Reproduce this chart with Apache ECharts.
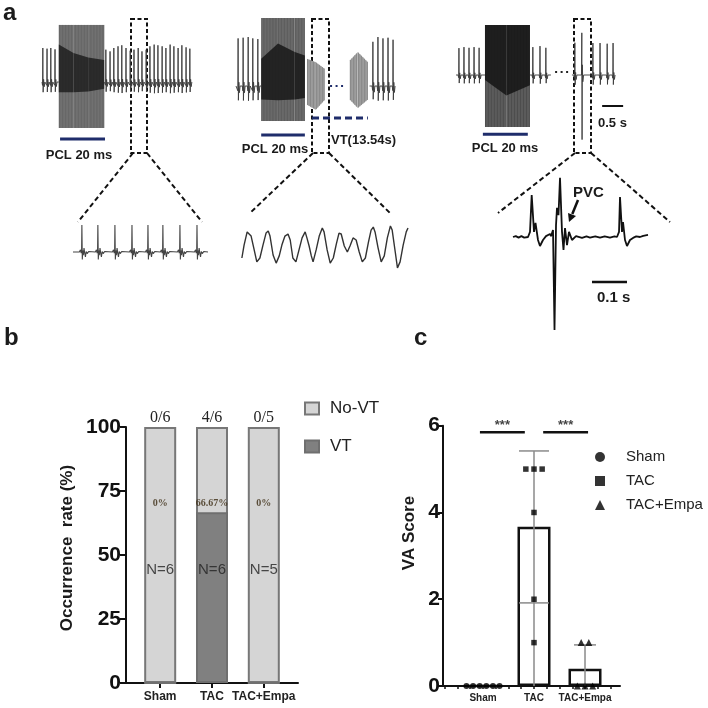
<!DOCTYPE html>
<html><head><meta charset="utf-8">
<script src="https://cdn.jsdelivr.net/npm/echarts@6/dist/echarts.min.js"></script>
<style>html,body{margin:0;padding:0;background:#fff}#c{width:708px;height:708px}</style>
</head><body><div id="c"></div>
<script>
// ================= DATA =================
// ---- Panel a : ECG traces (time in s for overview traces, ms for zooms; amplitude in relative mV)
const sinusBeatShape = [[-0.02,0],[-0.007,-0.1],[0,1],[0.007,-0.3],[0.018,0.08],[0.032,-0.14],[0.048,0]];
const pvcBeatShape   = [[-0.012,0],[-0.004,1.24],[0.002,-1.9],[0.008,0.3],[0.02,-0.2],[0.04,0]];

const trace1PreBeats  = [0.02,0.12,0.21,0.31];
const trace1PreAmp    = [1.0,0.98,1.0,0.96];
const trace1PostBeats = [1.52,1.62,1.71,1.81,1.90,2.00,2.10,2.19,2.29,2.38,2.48,2.57,2.67,2.76,2.86,2.95,3.05,3.14,3.24,3.33,3.43,3.52];
const trace1PostAmp   = [0.95,0.9,1.0,1.05,1.08,1.0,0.92,0.95,1.0,0.9,0.95,1.05,1.1,1.08,1.05,1.0,1.1,1.05,1.0,1.08,1.02,0.98];
// pacing envelope: [t, outerTop, innerTop, innerBottom, outerBottom]
const trace1Pacing = [[0.40,1.68,1.1,-0.3,-1.35],[0.75,1.68,0.85,-0.3,-1.35],[1.10,1.68,0.72,-0.28,-1.35],[1.48,1.68,0.65,-0.2,-1.35]];

const trace2PreBeats  = [0.05,0.17,0.29,0.40,0.52];
const trace2PreAmp    = [1.4,1.42,1.44,1.4,1.38];
const trace2PostBeats = [3.26,3.38,3.50,3.62,3.74];
const trace2PostAmp   = [1.3,1.44,1.4,1.42,1.36];
const trace2Pacing = [[0.60,2.0,0.8,-0.4,-1.03],[1.0,2.0,1.25,-0.42,-1.03],[1.4,2.0,1.0,-0.4,-1.03],[1.64,2.0,0.9,-0.35,-1.03]];
const trace2VT1 = [[1.69,0.8,null,null,-0.55],[1.9,0.7,null,null,-0.7],[2.12,0.5,null,null,-0.4]];
const trace2VT2 = [[2.71,0.75,null,null,-0.4],[2.9,1.0,null,null,-0.65],[3.14,0.7,null,null,-0.4]];
const trace2Gap = [[2.24,0],[2.60,0]];
const trace2VTEpisode = [1.81,3.14];

const trace3PreBeats = [0.07,0.19,0.31,0.43,0.55];
const trace3PreAmp   = [0.79,0.82,0.8,0.82,0.8];
const trace3MidBeats = [1.83,2.0,2.14];
const trace3MidAmp   = [0.82,0.85,0.8];
const trace3PostBeats = [2.83,3.0,3.26,3.43,3.60,3.74];
const trace3PostAmp   = [0.95,1.0,0.94,0.94,0.92,0.94];
const trace3PostKind  = ['N','PVC','N','N','N','N'];
const trace3Pacing = [[0.69,1.47,1.47,-0.15,-1.53],[1.2,1.47,1.47,-0.6,-1.53],[1.76,1.47,1.47,-0.3,-1.53]];
const trace3Gap = [[2.36,0.09],[2.67,0.09]];
const scaleBarTop = [3.48, 0.5];     // start (s), length (s)

// zoomed traces
const sinusZoomBeats = [25,70,118,166,211,253,301,349];
const sinusZoomShape = [[-7,0],[-4,0.08],[-2,-0.04],[-0.8,0.05],[0,1],[1.2,-0.28],[2.5,0.05],[4,-0.12],[6,0.15],[8,-0.05],[10,-0.18],[12,0.02],[15,-0.06],[19,0.02],[23,0]];
const vtZoom = [[2,-0.1],[7,0.33],[14,0.77],[18,0.83],[23,0.63],[30,0.17],[36,-0.23],[43,-0.1],[50,0.33],[57,0.73],[62,0.8],[66,0.63],[73,0],[80,-0.27],[87,-0.03],[93,0.33],[100,0.63],[107,0.7],[112,0.5],[118,-0.1],[125,-0.23],[132,0.17],[139,0.57],[146,0.77],[150,0.57],[155,0.3],[160,-0.03],[164,-0.23],[171,0.17],[178,0.63],[185,0.9],[189,0.77],[196,0.17],[203,-0.27],[210,-0.1],[217,0.37],[223,0.73],[228,0.7],[235,0.3],[242,0.1],[248,0.3],[255,0.57],[262,0.5],[269,0.1],[276,-0.23],[283,-0.1],[290,0.43],[296,0.83],[301,0.93],[305,0.77],[312,0.23],[319,-0.23],[326,-0.03],[333,0.57],[340,0.97],[344,0.83],[351,0.1],[356,-0.43],[362,-0.23],[369,0.33],[376,0.77],[380,0.9]];
const pvcZoom = [[0,0],[8,0.03],[16,-0.02],[24,0.03],[32,-0.02],[42.9,0],[48.6,0.17],[53.4,1.4],[60,0.17],[64.3,0.47],[71.4,-0.1],[77.1,-0.3],[85.7,-0.1],[94.3,0.03],[105.7,0.1],[108.6,0.03],[114.3,0.23],[118.6,-3.1],[122.9,0.4],[125.7,0.97],[130,0.73],[134.3,1.97],[140,0.17],[144.3,-0.43],[148.6,0.3],[154.3,-0.27],[160,0.17],[168.6,-0.1],[180,0.03],[197.1,-0.03],[210,0.02],[220,-0.02],[235,0.02],[248.6,-0.02],[262,0.02],[277,-0.02],[290,0.02],[297.1,0],[302.9,0.17],[305.7,1.33],[311.4,0.17],[314.3,0.5],[320,-0.1],[325.7,-0.3],[334.3,-0.1],[342.9,-0.03],[352,0.02],[362.9,0],[372,0.04],[385.7,0.07]];
const scaleBarPvc = [225.7, 100];    // start (ms), length (ms)

// ---- Panel b
const bCategories = ['Sham','TAC','TAC+Empa'];
const vtRate   = [0, 66.67, 0];
const noVtRate = [100, 100, 100];
const vtFractions = ['0/6','4/6','0/5'];
const vtPctLabels = ['0%','66.67%','0%'];
const groupN = ['N=6','N=6','N=5'];

// ---- Panel c
const cCategories = ['Sham','TAC','TAC+Empa'];
const vaSham = [0,0,0,0,0,0];
const vaTAC  = [5,5,5,4,2,1];
const vaEmpa = [1,1,0,0,0];
const sigLines = [[-0.06,0.82,5.85,'***'],[1.18,2.06,5.85,'***']];

// ================= HELPERS =================
function beatsLine(beats, amps, shapes, start, end) {
  const pts = [];
  if (start !== undefined) pts.push([start, 0]);
  beats.forEach((t, i) => {
    const shape = Array.isArray(shapes[0][0]) ? shapes[i] : shapes;
    shape.forEach(([dt, v]) => pts.push([+(t + dt).toFixed(4), v * amps[i]]));
  });
  if (end !== undefined) pts.push([end, 0]);
  return pts;
}
function ecgLine(idx, data, color, width, z) {
  return {type:'line', xAxisIndex:idx, yAxisIndex:idx, data, symbol:'none', silent:true,
    lineStyle:{color, width}, z: z || 2, animation:false, clip:false};
}
function envSeries(idx, env, colors, z) {
  return {
    type:'custom', xAxisIndex:idx, yAxisIndex:idx, z: z || 3, silent:true,
    data: env.slice(0, -1).map((d, i) => [d[0], i]),
    renderItem: (params, api) => {
      const i = params.dataIndex, a = env[i], b = env[i + 1];
      const p = (t, v) => api.coord([t, v]);
      const ch = [];
      ch.push({type:'polygon', shape:{points:[p(a[0],a[1]),p(b[0],b[1]),p(b[0],b[4]),p(a[0],a[4])]}, style:{fill:colors[0]}});
      const x0 = p(a[0],0)[0], x1 = p(b[0],0)[0];
      for (let x = x0 + 0.6; x < x1; x += 1.5) {
        const f = (x - x0) / (x1 - x0);
        const yt = p(a[0], a[1] + (b[1]-a[1])*f)[1], yb = p(a[0], a[4] + (b[4]-a[4])*f)[1];
        ch.push({type:'line', shape:{x1:x,y1:yt,x2:x,y2:yb}, style:{stroke:colors[2], lineWidth:0.6}});
      }
      if (a[2] !== null) {
        ch.push({type:'polygon', shape:{points:[p(a[0],a[2]),p(b[0],b[2]),p(b[0],b[3]),p(a[0],a[3])]}, style:{fill:colors[1], opacity:0.85}});
      }
      return {type:'group', children:ch};
    }
  };
}
function spread(values, center, step) {
  const counts = {}, seen = {};
  values.forEach(v => counts[v] = (counts[v] || 0) + 1);
  return values.map(v => {
    const k = seen[v] = (seen[v] || 0) + 1;
    return [center + (k - 1 - (counts[v] - 1) / 2) * step, v];
  });
}
const mean = a => a.reduce((s, v) => s + v, 0) / a.length;
const sd = a => { const m = mean(a); return Math.sqrt(a.reduce((s, v) => s + (v - m) ** 2, 0) / (a.length - 1)); };

// ================= LAYOUT =================
const SANS = '"Liberation Sans", Arial, sans-serif';
const SERIF = '"Liberation Serif", "Times New Roman", serif';
const grids = [
  {left:42,  top:14,    width:150, height:129.2},
  {left:236, top:14.6,  width:160, height:125.8},
  {left:456, top:13.8,  width:170, height:136},
  {left:73,  top:219.6, width:135, height:48.6},
  {left:241, top:225,   width:167, height:45},
  {left:513, top:174,   width:135, height:159},
  {left:126, top:427,   width:172, height:256},
  {left:443, top:425.7, width:177, height:260.3}
].map(g => Object.assign({outerBoundsMode:'none', containLabel:false}, g));
const hiddenX = [[0,3.571],[0,3.81],[0,4.048],[0,380],[0,380],[0,385.7]];
const hiddenY = [[-1.8,2.0],[-1.6,2.1],[-2.2,1.8],[-0.6,1.2],[-0.5,1.0],[-3.2,2.1]];

const xAxes = hiddenX.map((r, i) => ({type:'value', gridIndex:i, min:r[0], max:r[1], show:false}));
const yAxes = hiddenY.map((r, i) => ({type:'value', gridIndex:i, min:r[0], max:r[1], show:false}));

xAxes.push({type:'value', gridIndex:6, min:-0.66, max:2.66,
  axisLine:{show:true, onZero:false, lineStyle:{color:'#111', width:2}},
  axisTick:{show:true, customValues:[0,1,2], length:5, lineStyle:{color:'#111', width:2}},
  axisLabel:{customValues:[0,1,2], formatter:v => bCategories[Math.round(v)], fontFamily:SANS, fontWeight:'bold', fontSize:12, color:'#222', margin:8},
  splitLine:{show:false}});
yAxes.push({type:'value', gridIndex:6, min:0, max:100, interval:25,
  axisLine:{show:true, onZero:false, lineStyle:{color:'#111', width:2}},
  axisTick:{show:true, length:6, lineStyle:{color:'#111', width:2}},
  axisLabel:{fontFamily:SANS, fontWeight:'bold', fontSize:21, color:'#111', margin:5},
  splitLine:{show:false}});
const cTicks = [];
for (let v = -0.75; v <= 2.6; v += 0.25) cTicks.push(+v.toFixed(2));
xAxes.push({type:'value', gridIndex:7, min:-0.784, max:2.686,
  axisLine:{show:true, onZero:false, lineStyle:{color:'#111', width:2}},
  axisTick:{show:true, customValues:cTicks, length:3, lineStyle:{color:'#111', width:1.5}},
  axisLabel:{customValues:[0,1,2], formatter:v => cCategories[Math.round(v)], fontFamily:SANS, fontWeight:'bold', fontSize:10, color:'#222', margin:7},
  splitLine:{show:false}});
yAxes.push({type:'value', gridIndex:7, min:0, max:6, interval:2,
  axisLine:{show:true, onZero:false, lineStyle:{color:'#111', width:2}},
  axisTick:{show:true, length:5, lineStyle:{color:'#111', width:2}},
  axisLabel:{fontFamily:SANS, fontWeight:'bold', fontSize:21, color:'#111', margin:3},
  splitLine:{show:false}});

// ================= SERIES =================
const series = [];
const TR = '#3a3a3a';
// trace 1
series.push(ecgLine(0, beatsLine(trace1PreBeats, trace1PreAmp, sinusBeatShape, 0, trace1Pacing[0][0]), TR, 0.9));
series.push(ecgLine(0, beatsLine(trace1PostBeats, trace1PostAmp, sinusBeatShape, trace1Pacing[3][0]), TR, 0.9));
series.push(envSeries(0, trace1Pacing, ['#7c7c7c','#1e1e1e','#555']));
series.push(ecgLine(0, [[trace1Pacing[0][0]+0.03,-1.68],[trace1Pacing[3][0]+0.02,-1.68]], '#1f2d6b', 3));
// trace 2
series.push(ecgLine(1, beatsLine(trace2PreBeats, trace2PreAmp, sinusBeatShape, 0, trace2Pacing[0][0]), TR, 0.9));
series.push(ecgLine(1, beatsLine(trace2PostBeats, trace2PostAmp, sinusBeatShape, 3.18), TR, 0.9));
series.push(envSeries(1, trace2Pacing, ['#777','#181818','#4a4a4a']));
series.push(envSeries(1, trace2VT1, ['#b4b4b4',null,'#666']));
series.push(envSeries(1, trace2VT2, ['#b4b4b4',null,'#666']));
series.push(Object.assign(ecgLine(1, trace2Gap, '#1f2d6b', 2), {lineStyle:{color:'#1f2d6b', width:2, type:[2,3.5]}}));
series.push(ecgLine(1, [[trace2Pacing[0][0],-1.44],[trace2Pacing[3][0],-1.44]], '#1f2d6b', 3));
series.push(Object.assign(ecgLine(1, [[trace2VTEpisode[0],-0.94],[trace2VTEpisode[1],-0.94]], '#1f2d6b', 3), {lineStyle:{color:'#1f2d6b', width:3, type:[7,4]}}));
// trace 3
series.push(ecgLine(2, beatsLine(trace3PreBeats, trace3PreAmp, sinusBeatShape, 0, trace3Pacing[0][0]), TR, 0.9));
series.push(ecgLine(2, beatsLine(trace3MidBeats, trace3MidAmp, sinusBeatShape, trace3Pacing[2][0], 2.26), TR, 0.9));
series.push(ecgLine(2, beatsLine(trace3PostBeats, trace3PostAmp, trace3PostKind.map(k => k === 'PVC' ? pvcBeatShape : sinusBeatShape), 2.76, 3.8), TR, 0.9));
series.push(envSeries(2, trace3Pacing, ['#6a6a6a','#141414','#3a3a3a']));
series.push(Object.assign(ecgLine(2, trace3Gap, '#222', 2), {lineStyle:{color:'#222', width:2, type:[2,3.5]}}));
series.push(ecgLine(2, [[trace3Pacing[0][0]-0.05,-1.74],[trace3Pacing[2][0]-0.05,-1.74]], '#1f2d6b', 3));
series.push(ecgLine(2, [[scaleBarTop[0],-0.91],[scaleBarTop[0]+scaleBarTop[1],-0.91]], '#111', 2));
// zooms
series.push(ecgLine(3, beatsLine(sinusZoomBeats, sinusZoomBeats.map(() => 1), sinusZoomShape, 0, 380), '#444', 1.1));
series.push(ecgLine(4, vtZoom, '#333', 1.4));
series.push(ecgLine(5, pvcZoom, '#111', 1.8));
series.push(ecgLine(5, [[scaleBarPvc[0],-1.5],[scaleBarPvc[0]+scaleBarPvc[1],-1.5]], '#111', 2.5));

// ---- Panel b bars
series.push({name:'No-VT', type:'bar', xAxisIndex:6, yAxisIndex:6, barWidth:32, z:2,
  data: noVtRate.map((v, i) => [i, v]),
  itemStyle:{color:'#d5d5d5', borderColor:'#777', borderWidth:2},
  label:{show:true, position:'top', distance:1, formatter:p => vtFractions[p.dataIndex], fontFamily:SERIF, fontSize:16, color:'#222'}});
series.push({name:'VT', type:'bar', xAxisIndex:6, yAxisIndex:6, barWidth:32, barGap:'-100%', z:3,
  data: vtRate.map((v, i) => [i, v]),
  itemStyle:{color:'#808080', borderColor:'#6f6f6f', borderWidth:2}});
series.push({type:'scatter', xAxisIndex:6, yAxisIndex:6, symbolSize:1, z:5, silent:true,
  itemStyle:{color:'rgba(0,0,0,0)'},
  data: vtPctLabels.map((t, i) => [i, 70.3]),
  label:{show:true, position:'inside', formatter:p => vtPctLabels[p.dataIndex], fontFamily:SERIF, fontWeight:'bold', fontSize:10, color:'#3b2a12'}});
series.push({type:'scatter', xAxisIndex:6, yAxisIndex:6, symbolSize:1, z:5, silent:true,
  itemStyle:{color:'rgba(0,0,0,0)'},
  data: groupN.map((t, i) => [i, 44.1]),
  label:{show:true, position:'inside', formatter:p => groupN[p.dataIndex], fontFamily:SANS, fontSize:15, color:'#222'}});

// ---- Panel c
const groups = [vaSham, vaTAC, vaEmpa];
const means = groups.map(mean);
const sds = groups.map(sd);
series.push({type:'bar', xAxisIndex:7, yAxisIndex:7, barWidth:33, z:2, silent:true,
  data: means.map((m, i) => [i, +m.toFixed(2)]),
  itemStyle:{color:'#fff', borderColor:'#111', borderWidth:2.5}});
const capHalf = [0, 15, 11];
series.push({type:'custom', xAxisIndex:7, yAxisIndex:7, z:4, silent:true,
  data: means.map((m, i) => [i, m - sds[i], m + sds[i]]).filter((d, i) => sds[i] > 0),
  renderItem: (params, api) => {
    const x = api.value(0), lo = api.value(1), hi = api.value(2);
    const idx = Math.round(x);
    const top = api.coord([x, hi]), base = api.coord([x, 0]);
    const ch = [{type:'line', shape:{x1:top[0], y1:top[1], x2:base[0], y2:base[1]}, style:{stroke:'#8a8a8a', lineWidth:1.5}},
      {type:'line', shape:{x1:top[0]-capHalf[idx], y1:top[1], x2:top[0]+capHalf[idx], y2:top[1]}, style:{stroke:'#8a8a8a', lineWidth:1.5}}];
    if (lo > 0) {
      const l = api.coord([x, lo]);
      ch.push({type:'line', shape:{x1:l[0]-capHalf[idx], y1:l[1], x2:l[0]+capHalf[idx], y2:l[1]}, style:{stroke:'#8a8a8a', lineWidth:1.5}});
    }
    return {type:'group', children:ch};
  }});
series.push({name:'Sham', type:'scatter', xAxisIndex:7, yAxisIndex:7, symbol:'circle', symbolSize:6, z:6, itemStyle:{color:'#000'}, data: spread(vaSham, 0, 0.13)});
series.push({name:'TAC', type:'scatter', xAxisIndex:7, yAxisIndex:7, symbol:'rect', symbolSize:5.5, z:6, itemStyle:{color:'#000'}, data: spread(vaTAC, 1, 0.16)});
series.push({name:'TAC+Empa', type:'scatter', xAxisIndex:7, yAxisIndex:7, symbol:'triangle', symbolSize:7, z:6, itemStyle:{color:'#000'}, data: spread(vaEmpa, 2, 0.15)});
sigLines.forEach(s => {
  series.push({type:'line', xAxisIndex:7, yAxisIndex:7, symbol:'none', silent:true, z:5,
    data:[[s[0], s[2]], [s[1], s[2]]], lineStyle:{color:'#111', width:2.5}});
  series.push({type:'scatter', xAxisIndex:7, yAxisIndex:7, symbolSize:1, silent:true, z:5,
    itemStyle:{color:'rgba(0,0,0,0)'}, data:[[(s[0]+s[1])/2, s[2]]],
    label:{show:true, position:'top', distance:0, formatter:s[3], fontFamily:SANS, fontWeight:'bold', fontSize:13, color:'#111'}});
});

// ================= GRAPHICS (annotations) =================
const dash = {stroke:'#111', lineWidth:2, lineDash:[4,2.5], fill:null};
const zl = (x1, y1, x2, y2) => ({type:'line', shape:{x1, y1, x2, y2}, style:{stroke:'#111', lineWidth:2, lineDash:[5,3]}, silent:true});
const txt = (x, y, text, font, align, extra) => Object.assign({type:'text', x, y, silent:true,
  style:{text, font, fill:'#1b1b1b', align:align || 'left', textAlign:align || 'left', verticalAlign:'middle', textVerticalAlign:'middle'}}, extra || {});
const graphic = [
  {type:'rect', shape:{x:131, y:19, width:16, height:134}, style:dash, silent:true},
  {type:'rect', shape:{x:312, y:19, width:17, height:134}, style:dash, silent:true},
  {type:'rect', shape:{x:574, y:19, width:17, height:134}, style:dash, silent:true},
  zl(133,153,78,222), zl(147,153,202,222),
  zl(313,153,250,213), zl(329,153,390,213),
  zl(575,153,498,213), zl(591,153,670,222),
  txt(3, 13, 'a', 'bold 24px ' + SANS),
  txt(4, 338, 'b', 'bold 24px ' + SANS),
  txt(414, 338, 'c', 'bold 24px ' + SANS),
  txt(79, 155, 'PCL 20 ms', 'bold 13px ' + SANS, 'center'),
  txt(275, 149, 'PCL 20 ms', 'bold 13px ' + SANS, 'center'),
  txt(505, 148, 'PCL 20 ms', 'bold 13px ' + SANS, 'center'),
  txt(331, 140, 'VT(13.54s)', 'bold 13px ' + SANS),
  txt(598, 123, '0.5 s', 'bold 13px ' + SANS),
  txt(573, 193, 'PVC', 'bold 15px ' + SANS),
  txt(597, 298, '0.1 s', 'bold 15px ' + SANS),
  {type:'line', shape:{x1:578, y1:200, x2:572.3, y2:214}, style:{stroke:'#111', lineWidth:2.5}, silent:true},
  {type:'polygon', shape:{points:[[569,222],[576,216],[568,213]]}, style:{fill:'#111'}, silent:true},
  txt(67, 548, 'Occurrence  rate (%)', 'bold 17px ' + SANS, 'center', {rotation:Math.PI/2}),
  txt(409, 533, 'VA Score', 'bold 17px ' + SANS, 'center', {rotation:Math.PI/2})
];

const option = {
  animation:false,
  backgroundColor:'#fff',
  grid:grids, xAxis:xAxes, yAxis:yAxes, series, graphic,
  legend:[
    {data:['No-VT','VT'], orient:'vertical', left:299, top:394, itemWidth:14, itemHeight:12, itemGap:19,
     icon:'rect', selectedMode:false, textStyle:{fontFamily:SANS, fontSize:17, color:'#222', lineHeight:19, padding:[0,0,0,6]}},
    {data:['Sham','TAC','TAC+Empa'], orient:'vertical', left:590, top:443, itemWidth:10, itemHeight:10, itemGap:6,
     selectedMode:false, textStyle:{fontFamily:SANS, fontSize:15, color:'#222', lineHeight:18, padding:[0,0,0,16]}}
  ]
};
const chart = echarts.init(document.getElementById('c'));
chart.setOption(option);
</script></body></html>
